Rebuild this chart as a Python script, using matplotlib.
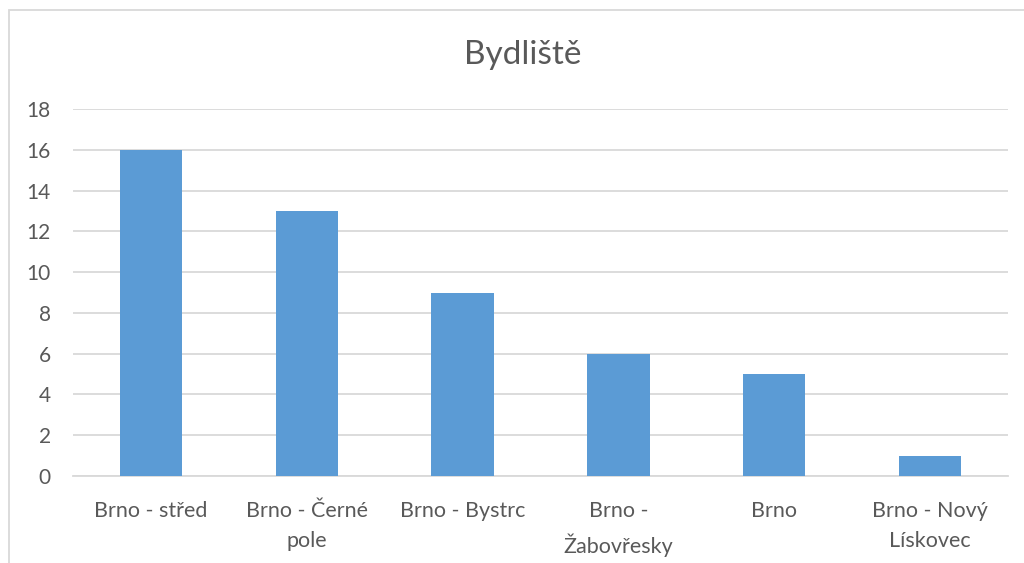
import matplotlib
matplotlib.use("Agg")
import matplotlib.pyplot as plt
from matplotlib.patches import Rectangle

plt.rcParams['font.family'] = ['Lato', 'DejaVu Sans']

# residence counts
categories = ["Brno - střed", "Brno - Černé\npole", "Brno - Bystrc",
              "Brno -\nŽabovřesky", "Brno", "Brno - Nový\nLískovec"]
counts = [16, 13, 9, 6, 5, 1]

text_col = "#595959"
grid_col = "#D9D9D9"
bar_col = "#5B9BD5"

fig = plt.figure(figsize=(10.24, 5.63), dpi=100)
ax = fig.add_axes([73 / 1024, 1 - 476 / 563, 935 / 1024, 367 / 563])

x = range(len(categories))
ax.bar(x, counts, width=0.4, color=bar_col, zorder=3)

ax.set_xlim(-0.5, len(categories) - 0.5)
ax.set_ylim(0, 18)
ax.set_yticks(range(0, 19, 2))
ax.set_xticks(list(x))
ax.set_xticklabels(categories, linespacing=1.65, va="top")
ax.tick_params(axis="both", length=0, colors=text_col)
ax.tick_params(axis="x", labelsize=15.5, pad=18)
ax.tick_params(axis="y", labelsize=15, pad=16)

ax.grid(axis="y", color=grid_col, linewidth=1.3, zorder=0)
for s in ["top", "right", "left"]:
    ax.spines[s].set_visible(False)
ax.spines["bottom"].set_color(grid_col)
ax.spines["bottom"].set_linewidth(1.3)

fig.text(523 / 1024, 1 - 55 / 563, "Bydliště", ha="center", va="center",
         fontsize=24, color=text_col)

# chart frame
fig.patches.append(Rectangle((9 / 1024, -0.05), 1.1, 1 - 10 / 563 + 0.05,
                             transform=fig.transFigure, fill=False,
                             edgecolor=grid_col, linewidth=1.3))

fig.savefig("out.png", dpi=100)
